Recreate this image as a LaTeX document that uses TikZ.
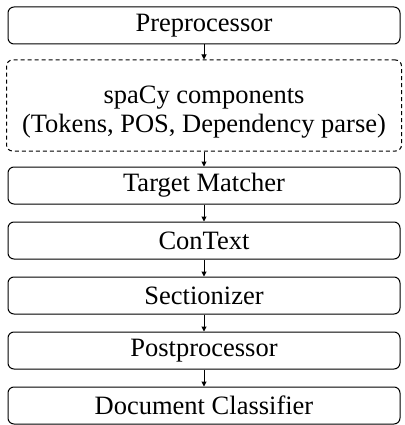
\documentclass[tikz,border=0pt]{standalone}
\usepackage{fontspec}
\setmainfont{Liberation Serif}
\usetikzlibrary{arrows.meta,positioning}
\tikzset{stage/.style={rectangle, rounded corners=6pt, draw=black, line width=1pt, fill=white, minimum width=392pt, minimum height=37pt, inner sep=0pt, align=center, font=\fontsize{26.5}{28.5}\selectfont}}
\tikzset{spacybox/.style={stage, dash pattern=on 4pt off 3pt, minimum width=395pt, minimum height=91pt}}
\tikzset{flow/.style={line width=1pt, -{Triangle[length=5pt,width=5pt]}}}

\begin{document}
\begin{tikzpicture}[x=1pt,y=1pt,node distance=17pt]
	\useasboundingbox (0,0) rectangle (404,-425);
	\node [stage] (pre) at (204,-25.5) {Preprocessor};
	\node [spacybox, below=15pt of pre] (spacy) {\rule{0pt}{31pt}spaCy components\\(Tokens, POS, Dependency parse)};
	\node [stage, below=15pt of spacy] (target) {Target Matcher};
	\node [stage, below=of target] (context) {ConText};
	\node [stage, below=of context] (section) {Sectionizer};
	\node [stage, below=of section] (post) {Postprocessor};
	\node [stage, below=of post] (doc) {Document Classifier};
	\draw [flow] (pre) -- (spacy);
	\draw [flow] (spacy) -- (target);
	\draw [flow] (target) -- (context);
	\draw [flow] (context) -- (section);
	\draw [flow] (section) -- (post);
	\draw [flow] (post) -- (doc);
\end{tikzpicture}
\end{document}
